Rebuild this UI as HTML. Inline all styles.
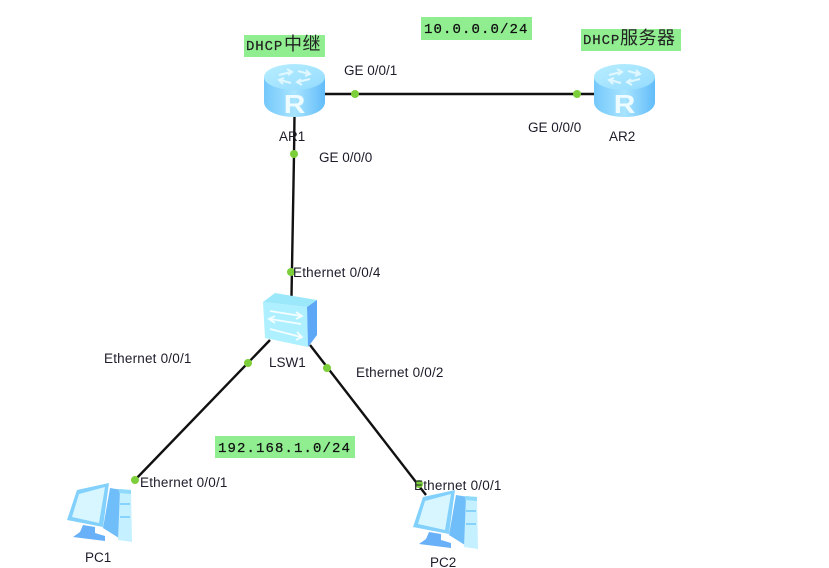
<!DOCTYPE html>
<html>
<head>
<meta charset="utf-8">
<style>
html,body{margin:0;padding:0;background:#fff;width:829px;height:568px;overflow:hidden}
svg{display:block}
text{font-family:"Liberation Sans","Noto Sans CJK SC",sans-serif;font-size:13.500px;fill:#1c1c2a}
.e{letter-spacing:.2px}
.m{font-family:"Liberation Mono","Noto Sans CJK SC",monospace;font-size:14px;letter-spacing:1.100px;fill:#111;stroke:#111;stroke-width:.25px}
.d{font-family:"Liberation Mono",monospace;font-size:14px;letter-spacing:.9px;fill:#222;stroke:#222;stroke-width:.2px}
.c{font-family:"Noto Sans CJK SC",sans-serif;font-size:18px;letter-spacing:.5px;fill:#222;stroke:none}
</style>
</head>
<body>
<svg width="829" height="568" viewBox="0 0 829 568" xmlns="http://www.w3.org/2000/svg">
<defs>
<linearGradient id="rs" x1="0" x2="1" y1="0" y2="0">
<stop offset="0" stop-color="#74c8fb"/><stop offset=".5" stop-color="#a8e4ff"/><stop offset="1" stop-color="#62bcf9"/>
</linearGradient>
<linearGradient id="rt" x1="0" x2="1" y1="0" y2="1">
<stop offset="0" stop-color="#b8eeff"/><stop offset="1" stop-color="#94dbff"/>
</linearGradient>
<g id="router">
<path d="M0 13 V38 C0 47 14 53 30.500 53 C47 53 61 47 61 38 V13 Z" fill="url(#rs)"/>
<ellipse cx="30.500" cy="13" rx="30.500" ry="13" fill="url(#rt)"/>
<g stroke="#e8faff" stroke-width="2" fill="none" opacity=".9">
<path d="M15 11 L27 8 M23 5 L28 8 L24 11"/>
<path d="M46 15 L34 18 M38 21 L33 18 L37 15"/>
<path d="M34 7 L45 10 M42 6 L46 10 L41 12"/>
<path d="M27 19 L16 16 M19 20 L15 16 L20 14"/>
</g>
<text transform="translate(30.500 49) scale(1.150 1)" text-anchor="middle" style="font-size:26px;font-weight:bold;fill:#eefbff">R</text>
</g>
<g id="pc">
<path d="M110 488 L122 490 L122 540 L103 528 Z" fill="#6fbdf9"/>
<path d="M120 489 L131 490 L132 542 L118 540 Z" fill="#c4f0ff"/>
<path d="M119 489 L131 490 L131 494 L119 493 Z" fill="#8fdafb"/>
<path d="M120 503 L130 503 L130 505 L120 505 Z" fill="#86d2fa"/>
<path d="M120 516 L130 516 L130 518 L120 518 Z" fill="#86d2fa"/>
<path d="M77 490 L109 483 L103 527 L67 520 Z" fill="#82d0fc"/>
<path d="M79 494 L105 487 L99 523 L72 517 Z" fill="#d8f6ff"/>
<path d="M83 525 L95 527 L95 533 L105 536 L105 541 L73 537 L80 532 Z" fill="#68b0f8"/>
</g>
</defs>

<!-- green labels -->
<rect x="244" y="35" width="81" height="22" fill="#90ee90"/>
<text x="246" y="50" class="d">DHCP</text>
<text x="284" y="50" class="c">中继</text>
<rect x="421" y="17" width="111" height="23" fill="#90ee90"/>
<text x="424" y="33" class="m">10.0.0.0/24</text>
<rect x="581" y="29" width="100" height="22" fill="#90ee90"/>
<text x="583" y="44" class="d">DHCP</text>
<text x="620" y="44" class="c">服务器</text>
<rect x="215" y="436" width="140" height="22" fill="#90ee90"/>
<text x="218" y="452" class="m">192.168.1.0/24</text>

<!-- links -->
<g stroke="#111" stroke-width="2.400" fill="none">
<line x1="325" y1="94" x2="595" y2="94"/>
<line x1="294.500" y1="115" x2="294" y2="155"/>
<line x1="294" y1="155" x2="291.500" y2="296"/>
<line x1="270" y1="340" x2="134" y2="481"/>
<line x1="310" y1="345" x2="426" y2="495"/>
</g>

<!-- devices -->
<use href="#router" x="264" y="64"/>
<use href="#router" x="594" y="64"/>

<!-- switch -->
<path d="M263 302 L307 307 L308 347 L265 338 Z" fill="#aef0ff"/>
<path d="M263 302 L275 293 L317 300 L307 307 Z" fill="#9ce8fb"/>
<path d="M307 307 L317 300 L317 335 L308 347 Z" fill="#5ca8f6"/>
<g stroke="#f4fdff" stroke-width="1.800" fill="none">
<path d="M270 311 L301 316 M296 312 L302 316 L296 319"/>
<path d="M301 324 L270 319 M275 316 L269 319 L275 323"/>
<path d="M270 329 L301 337 M297 332 L302 337 L296 340"/>
</g>

<use href="#pc"/>
<use href="#pc" x="346" y="7"/>

<!-- port dots -->
<g fill="#7ccf3a">
<circle cx="355" cy="94" r="4"/>
<circle cx="577" cy="94" r="4"/>
<circle cx="294" cy="154" r="4"/>
<circle cx="291" cy="272" r="4"/>
<circle cx="248" cy="363" r="4"/>
<circle cx="327" cy="368" r="4"/>
<circle cx="135" cy="480" r="4"/>
<circle cx="419" cy="484" r="4"/>
</g>

<!-- labels -->
<text x="344" y="75">GE 0/0/1</text>
<text x="528" y="132">GE 0/0/0</text>
<text x="319" y="162">GE 0/0/0</text>
<text x="279" y="141">AR1</text>
<text x="609" y="141">AR2</text>
<text x="293" y="277" class="e">Ethernet 0/0/4</text>
<text x="104" y="363" class="e">Ethernet 0/0/1</text>
<text x="356" y="377" class="e">Ethernet 0/0/2</text>
<text x="269" y="367">LSW1</text>
<text x="140" y="487" class="e">Ethernet 0/0/1</text>
<text x="414" y="490" class="e">Ethernet 0/0/1</text>
<text x="85" y="562">PC1</text>
<text x="430" y="567">PC2</text>
</svg>
</body>
</html>
